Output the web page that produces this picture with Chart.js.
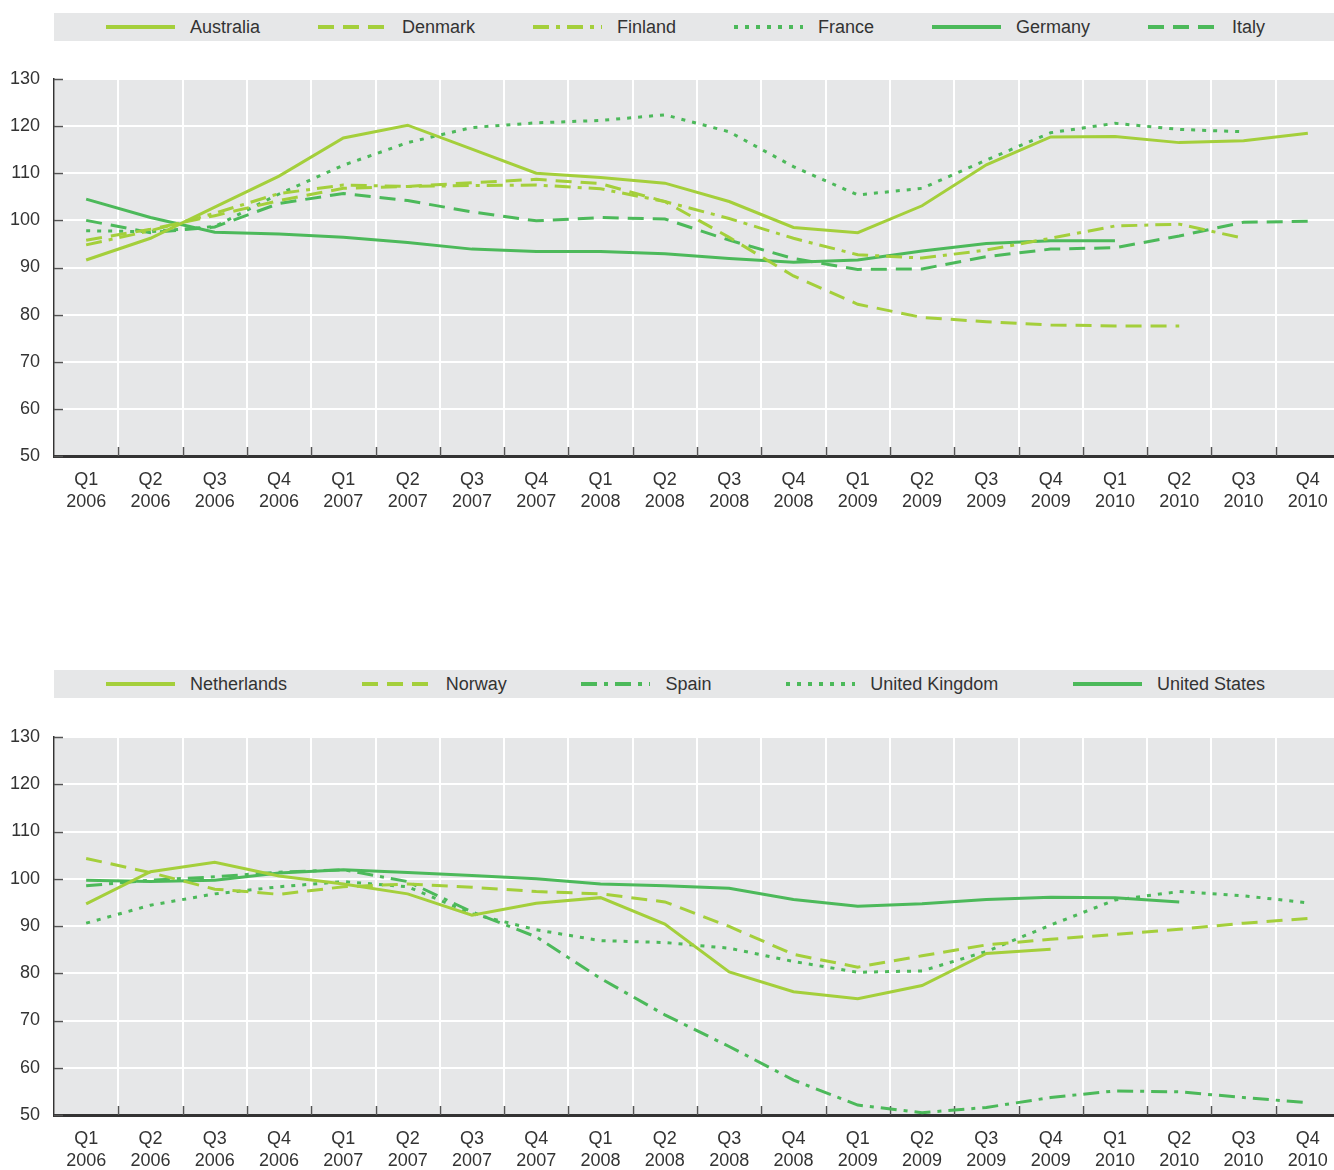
<!DOCTYPE html>
<html>
<head>
<meta charset="utf-8">
<script src="https://cdn.jsdelivr.net/npm/chart.js@4.4.1/dist/chart.umd.min.js"></script>
<style>
  body { margin: 0; background: #fff; overflow: hidden; width: 1334px; height: 1170px; position: relative; }
  .legend {
    position: absolute; left: 54px; width: 1280px; height: 28px;
    background: #e6e7e8; box-sizing: border-box;
    padding: 0 69px 0 52px;
    display: flex; justify-content: space-between; align-items: center;
    font-family: 'Liberation Sans', Arial, sans-serif;
    font-size: 18px; color: #333;
  }
  .legend .item { display: flex; align-items: center; white-space: nowrap; }
  .legend svg { margin-right: 15px; }
  canvas { position: absolute; left: 0; }
</style>
</head>
<body>
<div class="legend" id="legendTop" style="top:13px"></div>
<canvas id="chartTop" width="1340" height="447" style="top:69px"></canvas>
<div class="legend" id="legendBottom" style="top:670px"></div>
<canvas id="chartBottom" width="1340" height="443" style="top:727px"></canvas>

<script>
'use strict';

// quarters shown on the x axis
var categories = ['Q1 2006', 'Q2 2006', 'Q3 2006', 'Q4 2006',
  'Q1 2007', 'Q2 2007', 'Q3 2007', 'Q4 2007',
  'Q1 2008', 'Q2 2008', 'Q3 2008', 'Q4 2008',
  'Q1 2009', 'Q2 2009', 'Q3 2009', 'Q4 2009',
  'Q1 2010', 'Q2 2010', 'Q3 2010', 'Q4 2010'];
var yTicks = [50, 60, 70, 80, 90, 100, 110, 120, 130];

// first panel
var australia = [91.6, 96.2, 102.8, 109.4, 117.5, 120.2, 115.1, 110.0, 109.1, 107.9, 104.0, 98.5, 97.4, 103.1, 111.8, 117.7, 117.8, 116.5, 116.9, 118.5];
var denmark = [95.8, 98.1, 101.0, 104.2, 106.8, 107.2, 108.0, 108.7, 107.8, 104.0, 96.4, 88.2, 82.2, 79.4, 78.5, 77.8, 77.6, 77.6, null, null];
var finland = [94.8, 97.8, 101.5, 105.7, 107.5, 107.2, 107.4, 107.5, 106.7, 104.0, 100.4, 96.2, 92.7, 92.0, 93.7, 96.2, 98.8, 99.2, 96.2, null];
var france = [97.8, 97.6, 98.7, 105.6, 111.7, 116.5, 119.7, 120.7, 121.2, 122.4, 118.8, 111.4, 105.4, 106.8, 112.8, 118.6, 120.6, 119.3, 118.8, null];
var germany = [104.5, 100.6, 97.5, 97.1, 96.4, 95.3, 93.9, 93.4, 93.4, 92.9, 91.9, 91.1, 91.6, 93.5, 95.1, 95.7, 95.7, null, null, null];
var italy = [100.0, 97.4, 98.6, 103.6, 105.7, 104.2, 101.8, 99.9, 100.6, 100.3, 95.8, 91.9, 89.6, 89.7, 92.3, 93.9, 94.2, 96.7, 99.6, 99.8];

// second panel
var netherlands = [94.7, 101.5, 103.5, 100.6, 98.9, 96.8, 92.3, 94.8, 96.0, 90.4, 80.3, 76.1, 74.6, 77.4, 84.2, 85.1, null, null, null, null];
var norway = [104.3, 101.3, 97.8, 96.7, 98.3, 98.9, 98.2, 97.3, 96.8, 95.1, 89.9, 84.0, 81.3, 83.7, 86.0, 87.2, 88.2, 89.3, 90.6, 91.6];
var spain = [98.5, 99.7, 100.4, 101.4, 101.9, 99.4, 93.0, 87.7, 78.9, 71.2, 64.5, 57.4, 52.1, 50.5, 51.6, 53.7, 55.1, 54.9, 53.7, 52.6];
var unitedKingdom = [90.6, 94.4, 96.8, 98.3, 99.4, 98.3, 92.6, 89.2, 86.9, 86.5, 85.3, 82.5, 80.2, 80.5, 84.6, 90.2, 95.5, 97.3, 96.4, 94.9];
var unitedStates = [99.7, 99.4, 99.7, 101.2, 101.9, 101.3, 100.7, 100.0, 98.9, 98.5, 98.0, 95.6, 94.2, 94.7, 95.6, 96.1, 96.0, 95.1, null, null];

var LIGHT = '#a4cf3b';
var DARK = '#4cb95a';
var FONT = "'Liberation Sans', Arial, sans-serif";
var TEXT = '#333333';

var SOLID = [];
var DASH = [16, 9];
var DASHDOT = [16, 7, 4, 7];
var DOT = [4, 7];

var topSeries = [
  { label: 'Australia', data: australia, color: LIGHT, dash: SOLID },
  { label: 'Denmark', data: denmark, color: LIGHT, dash: DASH },
  { label: 'Finland', data: finland, color: LIGHT, dash: DASHDOT },
  { label: 'France', data: france, color: DARK, dash: DOT },
  { label: 'Germany', data: germany, color: DARK, dash: SOLID },
  { label: 'Italy', data: italy, color: DARK, dash: DASH }
];
var bottomSeries = [
  { label: 'Netherlands', data: netherlands, color: LIGHT, dash: SOLID },
  { label: 'Norway', data: norway, color: LIGHT, dash: DASH },
  { label: 'Spain', data: spain, color: DARK, dash: DASHDOT },
  { label: 'United Kingdom', data: unitedKingdom, color: DARK, dash: DOT },
  { label: 'United States', data: unitedStates, color: DARK, dash: SOLID }
];

function buildLegend(id, series) {
  var box = document.getElementById(id);
  series.forEach(function (s) {
    var item = document.createElement('div');
    item.className = 'item';
    var dash = s.dash.length ? s.dash.join(' ') : 'none';
    item.innerHTML = '<svg width="69" height="6"><line x1="0" y1="3" x2="69" y2="3" stroke="' + s.color +
      '" stroke-width="4" stroke-dasharray="' + dash + '"/></svg><span>' + s.label + '</span>';
    box.appendChild(item);
  });
}

// grey plot background plus the short inward tick marks
var panelPlugin = {
  id: 'panel',
  beforeDraw: function (chart) {
    var a = chart.chartArea, ctx = chart.ctx;
    ctx.save();
    ctx.fillStyle = '#e6e7e8';
    ctx.fillRect(a.left, a.top, a.right - a.left, a.bottom - a.top);
    ctx.restore();
  },
  beforeDatasetsDraw: function (chart) {
    var a = chart.chartArea, ctx = chart.ctx;
    var x = chart.scales.x, y = chart.scales.y;
    ctx.save();
    ctx.strokeStyle = '#555';
    ctx.lineWidth = 1.5;
    ctx.beginPath();
    yTicks.forEach(function (v) {
      var py = Math.round(y.getPixelForValue(v)) + 0.5;
      ctx.moveTo(a.left, py);
      ctx.lineTo(a.left + 9, py);
    });
    for (var i = 1; i < categories.length; i++) {
      var px = Math.round((x.getPixelForTick(i - 1) + x.getPixelForTick(i)) / 2) + 0.5;
      ctx.moveTo(px, a.bottom);
      ctx.lineTo(px, a.bottom - 9);
    }
    ctx.stroke();
    ctx.restore();
  }
};

function makeChart(id, series, xHeight) {
  var ctx = document.getElementById(id).getContext('2d');
  return new Chart(ctx, {
    type: 'line',
    data: {
      labels: categories,
      datasets: series.map(function (s) {
        return {
          label: s.label,
          data: s.data,
          borderColor: s.color,
          backgroundColor: s.color,
          borderWidth: 3,
          borderDash: s.dash,
          pointRadius: 0,
          tension: 0,
          spanGaps: false,
          fill: false
        };
      })
    },
    options: {
      responsive: false,
      animation: false,
      devicePixelRatio: 1,
      layout: { padding: { top: 10, right: 0, bottom: 0, left: 0 } },
      plugins: { legend: { display: false }, tooltip: { enabled: false } },
      scales: {
        x: {
          offset: true,
          grid: { offset: true, color: '#ffffff', lineWidth: 2, drawTicks: false },
          border: { display: true, color: '#333', width: 3 },
          ticks: {
            color: TEXT,
            font: { family: FONT, size: 18, lineHeight: 1.22 },
            padding: 13,
            maxRotation: 0,
            autoSkip: false,
            callback: function (v, i) { return categories[i].split(' '); }
          },
          afterFit: function (scale) {
            scale.height = xHeight;
            scale.paddingLeft = 0;
            scale.paddingRight = 0;
          }
        },
        y: {
          min: 50,
          max: 130,
          afterBuildTicks: function (scale) {
            scale.ticks = yTicks.map(function (v) { return { value: v }; });
          },
          grid: { color: '#ffffff', lineWidth: 2, drawTicks: false },
          border: { display: true, color: '#333', width: 1.5 },
          ticks: {
            color: TEXT,
            font: { family: FONT, size: 18 },
            padding: 14
          },
          afterFit: function (scale) {
            scale.width = 54;
            scale.paddingTop = 0;
            scale.paddingBottom = 0;
          }
        }
      }
    },
    plugins: [panelPlugin]
  });
}

buildLegend('legendTop', topSeries);
buildLegend('legendBottom', bottomSeries);
makeChart('chartTop', topSeries, 60);
makeChart('chartBottom', bottomSeries, 55);
</script>
</body>
</html>
